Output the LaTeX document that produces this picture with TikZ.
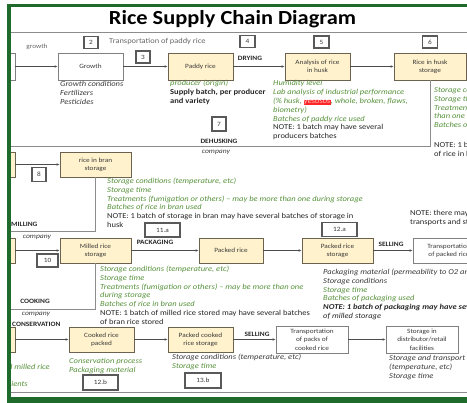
\documentclass[tikz,border=0pt]{standalone}
\usepackage{fontspec}
\setmainfont{Carlito}[FakeStretch=1.12]
\usetikzlibrary{arrows.meta}
\definecolor{yfill}{HTML}{FFF2CC}
\definecolor{yborder}{HTML}{6B6350}
\definecolor{wborder}{HTML}{808080}
\definecolor{gtxt}{HTML}{56913A}
\definecolor{framec}{HTML}{1E6B2B}
\definecolor{dtxt}{HTML}{3A3A3A}
\definecolor{sepc}{HTML}{8C8C8C}
\newcommand\myfs[2]{\fontsize{#1}{#2}\selectfont}
\newcommand\gr[1]{{\color{gtxt}#1}}
\newcommand\dk[1]{{\color{dtxt}#1}}
\begin{document}
\begin{tikzpicture}[x=1pt,y=-1pt,
  box/.style={draw, line width=0.75pt, minimum height=25pt, inner sep=1pt, align=center, font=\myfs{6.5}{8.3}, text=dtxt},
  ybox/.style={box, fill=yfill, draw=yborder},
  wbox/.style={box, fill=white, draw=wborder},
  numbox/.style={draw=black!65, fill=white, line width=1.1pt, inner sep=0pt, minimum height=12pt, font=\myfs{6.5}{7}, text=dtxt},
  conn/.style={draw=black!70, line width=0.65pt, -{Latex[length=3pt,width=2.6pt]}},
  sepline/.style={draw=sepc, line width=1pt},
  lab/.style={font=\bfseries\myfs{6.6}{7}, inner sep=0pt, text=black!85},
  comp/.style={font=\itshape\myfs{6.8}{7}, inner sep=0pt, text=dtxt},
  txt/.style={align=left, inner sep=0pt, anchor=base west, font=\itshape\myfs{7.6}{8.8}},
  uptxt/.style={align=left, inner sep=0pt, anchor=base west, font=\upshape\myfs{7.6}{8.8}, text=black!85}
]
\useasboundingbox (0,0) rectangle (467,403);
\begin{scope}
\clip (8,4) rectangle (467,397);
% separator lines
\coordinate (tl) at (8,32.5);
\coordinate (tr) at (467,32.5);
\draw[sepline] (tl) -- (tr);
\coordinate (bl) at (8,393);
\coordinate (br) at (467,393);
\draw[sepline] (bl) -- (br);
% title
\node[font=\bfseries\myfs{20}{24}, anchor=base, inner sep=0pt] (title) at (232.5,25) {Rice Supply Chain Diagram};
% row 1
\node[wbox, minimum width=12pt, minimum height=27pt] (l1) at (9,66.5) {};
\node[wbox, minimum width=65pt, minimum height=27pt] (growth) at (90.5,66.5) {Growth};
\node[ybox, minimum width=65pt, minimum height=27pt] (paddy) at (200.5,66.5) {Paddy rice};
\node[ybox, minimum width=65pt, minimum height=27pt] (anal) at (317.5,66.5) {Analysis of rice\\in husk};
\node[ybox, minimum width=72pt, minimum height=27pt] (rhs) at (430,66.5) {Rice in husk\\storage};
\draw[conn] (l1.east) -- (growth.west);
\draw[conn] (growth) -- (paddy);
\draw[conn] (paddy) -- (anal);
\draw[conn] (anal) -- (rhs);
\coordinate (c1) at (5,147);
\draw[sepline] (rhs.south) |- (c1);
\node[numbox, minimum width=14pt] (n2) at (91,42.5) {2};
\node[numbox, minimum width=14pt] (n3) at (143,57) {3};
\node[numbox, minimum width=15pt] (n4) at (247.5,41.5) {4};
\node[numbox, minimum width=15pt] (n5) at (321.5,42) {5};
\node[numbox, minimum width=15pt] (n6) at (430,42) {6};
\node[numbox, minimum width=14pt, minimum height=14pt] (n7) at (219,124) {7};
\node[font=\myfs{6.5}{7}, text=black!60, inner sep=0pt] (lgrowth) at (37,47) {growth};
\node[font=\myfs{7.5}{8}, text=black!60, inner sep=0pt, anchor=west] (ltransp) at (109,42) {Transportation of paddy rice};
\node[lab] (ldry) at (250,58) {DRYING};
\node[lab] (ldehusk) at (219,141) {DEHUSKING};
\node[comp] (lcomp1) at (216,152.5) {company};
\node[txt, text=dtxt] (tgrowth) at (60,104.6) {Growth conditions\\Fertilizers\\Pesticides};
\node[txt] (tpaddy) at (170,103.6) {\gr{producer (origin)}\\{\upshape\bfseries\color{black!85}Supply batch, per producer}\\{\upshape\bfseries\color{black!85}and variety}};
\node[txt] (tanal) at (273,138.8) {\gr{Humidity level}\\\gr{Lab analysis of industrial performance}\\\gr{(\% husk, {\setlength{\fboxsep}{0.2pt}\colorbox{red!85}{\color{red!25}yesosos}}, whole, broken, flaws,}\\\gr{biometry)}\\\gr{Batches of paddy rice used}\\{\upshape\color{black!85}NOTE: 1 batch may have several}\\{\upshape\color{black!85}producers batches}};
\node[txt] (trhs) at (434,127.7) {\gr{Storage conditions (temperature, etc)}\\\gr{Storage time}\\\gr{Treatments (fumigation or others) – may be more}\\\gr{than one during storage}\\\gr{Batches of rice in husk used}};
\node[uptxt] (trhsnote) at (434,156.3) {NOTE: 1 batch of storage may have several batches\\of rice in husk};
% row 2
\node[ybox, minimum width=12pt] (l2) at (9,164.5) {};
\node[ybox, minimum width=71pt] (bran) at (95.5,164.5) {rice in bran\\storage};
\draw[conn] (l2.east) -- (bran.west);
\coordinate (c2) at (5,232);
\draw[sepline] (bran.south) |- (c2);
\node[numbox, minimum width=14pt, minimum height=14pt] (n8) at (39,174.5) {8};
\node[txt] (tbran) at (107,227.5) {\gr{Storage conditions (temperature, etc)}\\\gr{Storage time}\\\gr{Treatments (fumigation or others) – may be more than one during storage}\\\gr{Batches of rice in bran used}\\{\upshape\color{black!85}NOTE: 1 batch of storage in bran may have several batches of storage in}\\{\upshape\color{black!85}husk}};
\node[lab, anchor=west] (lmill) at (11,224) {MILLING};
\node[comp] (lcomp2) at (37,237) {company};
\node[numbox, minimum width=35pt, minimum height=14pt] (n11a) at (162.5,230) {11.a};
\node[numbox, minimum width=35pt, minimum height=14pt] (n12a) at (339.5,229.5) {12.a};
\node[uptxt] (tnote2) at (410,224.3) {NOTE: there may be several\\transports and storages};
% row 3
\node[ybox, minimum width=12pt] (l3) at (9,250.5) {};
\node[ybox, minimum width=71pt] (milled) at (95.5,250.5) {Milled rice\\storage};
\node[ybox, minimum width=64pt] (packed) at (231,250.5) {Packed rice};
\node[ybox, minimum width=71pt] (prs) at (337.5,250.5) {Packed rice\\storage};
\node[wbox, minimum width=72pt] (tpr) at (449,250.5) {Transportation\\of packed rice};
\draw[conn] (l3.east) -- (milled.west);
\draw[conn] (milled) -- (packed);
\draw[conn] (packed) -- (prs);
\draw[conn] (prs) -- (tpr);
\coordinate (c3) at (5,310);
\draw[sepline] (milled.south) |- (c3);
\node[numbox, minimum width=21pt, minimum height=13pt] (n10) at (47.5,260.5) {10};
\node[lab] (lpack) at (155,242) {PACKAGING};
\node[lab] (lsell1) at (391,244) {SELLING};
\node[txt] (tmilled) at (100,324.3) {\gr{Storage conditions (temperature, etc)}\\\gr{Storage time}\\\gr{Treatments (fumigation or others) – may be more than one}\\\gr{during storage}\\\gr{Batches of rice in bran used}\\{\upshape\color{black!85}NOTE: 1 batch of milled rice stored may have several batches}\\{\upshape\color{black!85}of bran rice stored}};
\node[txt] (tprs) at (323,318.5) {\dk{Packaging material (permeability to O2 and humidity)}\\\dk{Storage conditions}\\\gr{Storage time}\\\gr{Batches of packaging used}\\{\bfseries\color{black!85}NOTE: 1 batch of packaging may have several batches}\\{\color{black!85}of milled storage}};
\node[lab] (lcook) at (35,301) {COOKING};
\node[comp] (lcomp3) at (36,314) {company};
\node[lab, anchor=west] (lcons) at (12,324) {CONSERVATION};
% row 4
\node[ybox, minimum width=12pt] (l4) at (9,339.5) {};
\node[ybox, minimum width=65pt] (crp) at (101.5,339.5) {Cooked rice\\packed};
\node[ybox, minimum width=65pt] (pcrs) at (200.5,339.5) {Packed cooked\\rice storage};
\node[wbox, minimum width=72pt, minimum height=27pt] (tpcr) at (312,339.5) {Transportation\\of packs of\\cooked rice};
\node[wbox, minimum width=72pt, minimum height=27pt] (sdrf) at (422,339.5) {Storage in\\distributor/retail\\facilities};
\draw[conn] (l4.east) -- (crp.west);
\draw[conn] (crp) -- (pcrs);
\draw[conn] (pcrs) -- (tpcr);
\draw[conn] (tpcr) -- (sdrf);
\node[lab] (lsell2) at (257,334) {SELLING};
\node[txt] (tcrp) at (69,372.8) {\gr{Conservation process}\\\gr{Packaging material}};
\node[txt] (tpcrs) at (172,368.3) {\dk{Storage conditions (temperature, etc)}\\\gr{Storage time}};
\node[txt, text=dtxt] (tsdrf) at (389,378.1) {Storage and transport conditions\\(temperature, etc)\\Storage time};
\node[txt, anchor=base east, text=gtxt] (tleft1) at (50,369.5) {Cooked milled rice};
\node[txt, anchor=base east, text=gtxt] (tleft2) at (28,386.5) {Ingredients};
\node[numbox, minimum width=35pt, minimum height=15pt] (n12b) at (100.5,382.5) {12.b};
\node[numbox, minimum width=36pt, minimum height=15pt] (n13b) at (203,380.5) {13.b};
\end{scope}
% green frame
\fill[framec] (7,4) rectangle (11,403);
\fill[framec] (7,4) rectangle (467,7.5);
\fill[framec] (7,397) rectangle (467,403);
\end{tikzpicture}
\end{document}
